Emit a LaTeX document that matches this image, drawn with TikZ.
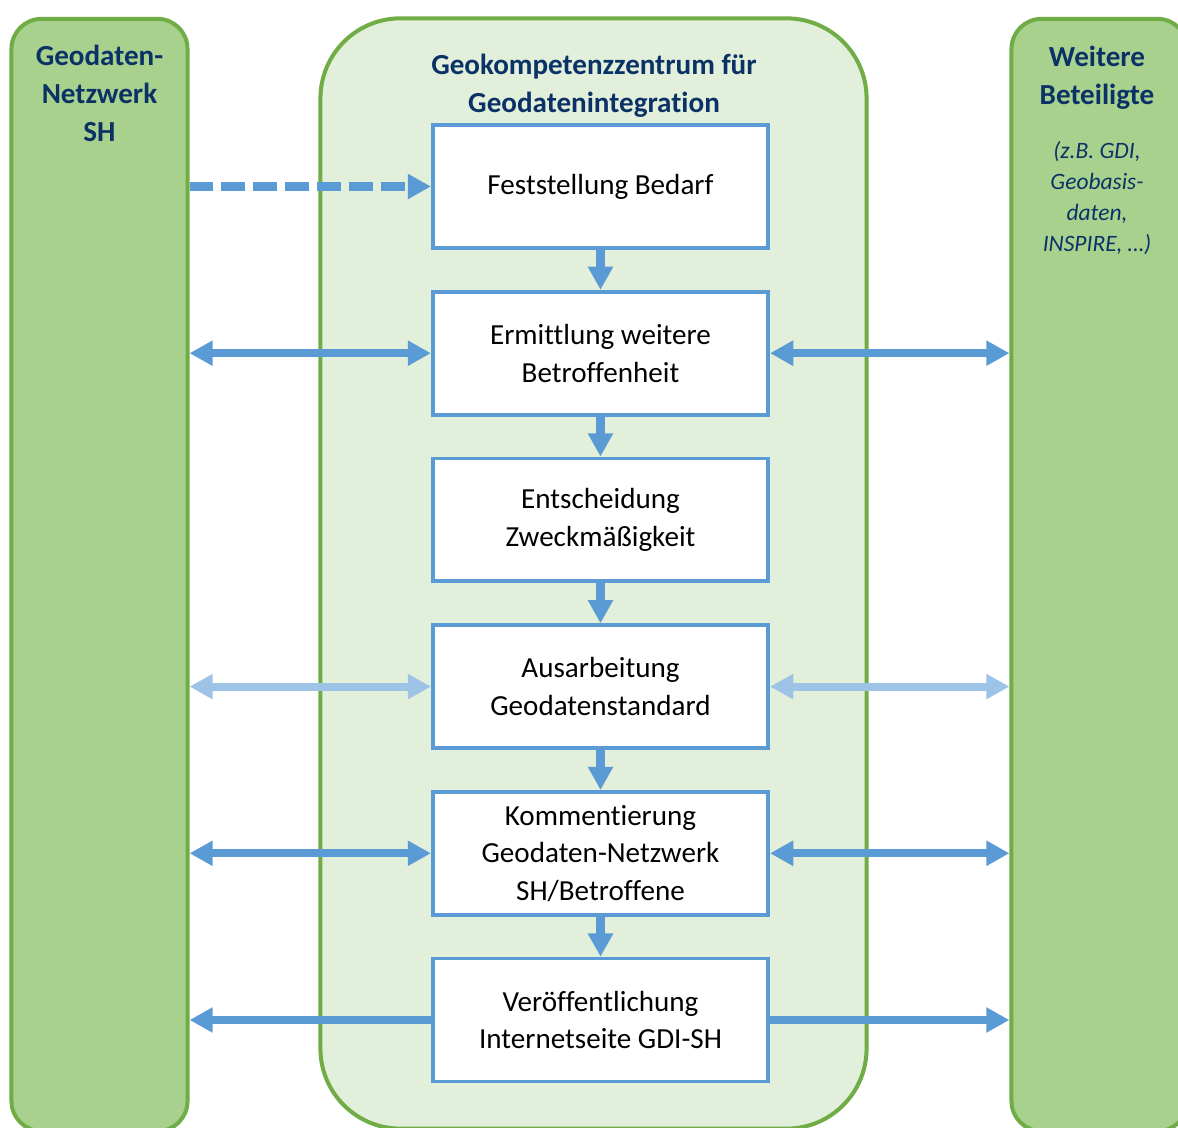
\documentclass[tikz,border=0pt]{standalone}
\usepackage{fontspec}
\setmainfont{Carlito}[Ligatures=NoCommon]
\usetikzlibrary{arrows.meta}
\definecolor{colgreen}{HTML}{A9D18E}
\definecolor{midgreen}{HTML}{E2EFDA}
\definecolor{rimgreen}{HTML}{70AD47}
\definecolor{flowblue}{HTML}{5B9BD5}
\definecolor{paleblue}{HTML}{9DC3E6}
\definecolor{titleblue}{HTML}{0B3266}
\begin{document}
\begin{tikzpicture}[x=0.025cm,y=-0.025cm,
    column/.style={draw=rimgreen,line width=2.85pt,fill=colgreen,rounded corners=0.75cm,
        minimum width=4.4cm,minimum height=27.8cm,inner sep=0pt},
    hub/.style={draw=rimgreen,line width=2.85pt,fill=midgreen,rounded corners=2cm,
        minimum width=13.65cm,minimum height=27.75cm,inner sep=0pt},
    stepbox/.style={draw=flowblue,line width=2.7pt,fill=white,minimum width=8.38cm,
        minimum height=3.07cm,align=center,inner sep=0pt,font=\fontsize{20.7}{26.8}\selectfont},
    heading/.style={text=titleblue,align=center,font=\bfseries\fontsize{20.7}{27}\selectfont},
    note/.style={text=titleblue,align=center,font=\itshape\fontsize{16.7}{22}\selectfont},
    flow/.style={flowblue,line width=5.7pt,-{Triangle[length=16.5pt,width=17pt]}},
    link/.style={flowblue,line width=5.7pt,
        {Triangle[length=16.5pt,width=17pt]}-{Triangle[length=16.5pt,width=17pt]}}]
    \useasboundingbox (0,0) rectangle (1178,1128);
    \clip (0,0) rectangle (1178,1128);
    % frames
    \node[hub] (hub) at (593.5,573.5) {};
    \node[column] (lcol) at (99.5,575) {};
    \node[column] (rcol) at (1099.5,575) {};
    \node[heading] (ltitle) at (99.5,93) {Geodaten-\\Netzwerk\\SH};
    \node[heading] (htitle) at (594,85.5) {Geokompetenzzentrum für\\Geodatenintegration};
    \node[heading] (rtitle) at (1097,77.5) {Weitere\\Beteiligte};
    \node[note] (rnote) at (1097,198) {(z.B. GDI,\\Geobasis-\\daten,\\INSPIRE, …)};
    % process steps
    \foreach \t [count=\i] in {{Feststellung Bedarf},{Ermittlung weitere\\Betroffenheit},
        {Entscheidung\\Zweckmäßigkeit},{Ausarbeitung\\Geodatenstandard},
        {Kommentierung\\Geodaten-Netzwerk\\SH/Betroffene},{Veröffentlichung\\Internetseite GDI-SH}}
        \node[stepbox] (b\i) at (600.5,{186.5+166.7*(\i-1)}) {\t};
    \foreach \i [evaluate=\i as \j using int(\i+1)] in {1,...,5}
        \draw[flow] (b\i) -- (b\j);
    % exchange with the columns
    \draw[flow,dash pattern=on 17pt off 5.7pt] (lcol.east |- b1) -- (b1);
    \draw[link] (lcol.east |- b2) -- (b2);
    \draw[link] (b2) -- (rcol.west |- b2);
    \draw[link,paleblue] (lcol.east |- b4) -- (b4);
    \draw[link,paleblue] (b4) -- (rcol.west |- b4);
    \draw[link] (lcol.east |- b5) -- (b5);
    \draw[link] (b5) -- (rcol.west |- b5);
    \draw[flow] (b6) -- (lcol.east |- b6);
    \draw[flow] (b6) -- (rcol.west |- b6);
\end{tikzpicture}
\end{document}
